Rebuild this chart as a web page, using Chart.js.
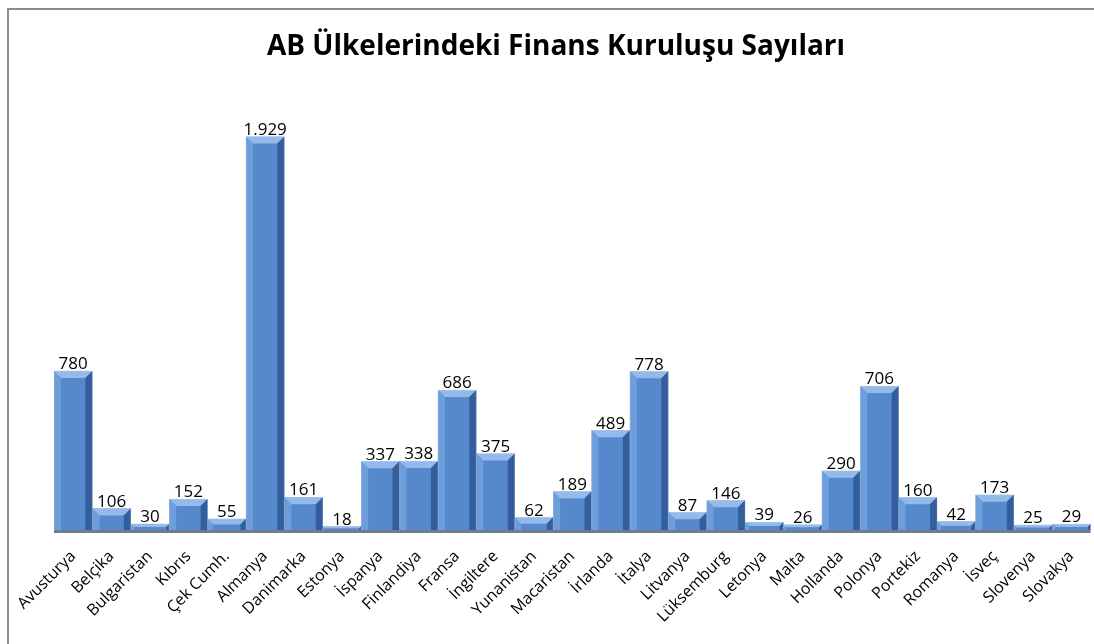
<!DOCTYPE html>
<html>
<head>
<meta charset="utf-8">
<script src="https://cdn.jsdelivr.net/npm/chart.js@4/dist/chart.umd.min.js"></script>
<style>
  html, body { margin: 0; padding: 0; background: #fff; }
  #wrap { width: 1094px; height: 644px; position: relative; }
</style>
</head>
<body>
<div id="wrap"><canvas id="chart"></canvas></div>
<script>
const ulkeler = ['Avusturya', 'Belçika', 'Bulgaristan', 'Kıbrıs', 'Çek Cumh.', 'Almanya', 'Danimarka', 'Estonya',
  'İspanya', 'Finlandiya', 'Fransa', 'İngiltere', 'Yunanistan', 'Macaristan', 'İrlanda', 'İtalya', 'Litvanya',
  'Lüksemburg', 'Letonya', 'Malta', 'Hollanda', 'Polonya', 'Portekiz', 'Romanya', 'İsveç', 'Slovenya', 'Slovakya'];
const kurulusSayisi = [780, 106, 30, 152, 55, 1929, 161, 18, 337, 338, 686, 375, 62, 189, 489, 778, 87,
  146, 39, 26, 290, 706, 160, 42, 173, 25, 29];
const baslik = 'AB Ülkelerindeki Finans Kuruluşu Sayıları';

const fmt = v => v.toLocaleString('tr-TR');

// cerceve, baslik, zemin cizgisi
const cercevePlugin = {
  id: 'cerceve',
  beforeDraw(chart) {
    const ctx = chart.ctx;
    ctx.save();
    ctx.strokeStyle = '#8c8c8c';
    ctx.lineWidth = 2;
    ctx.beginPath();
    ctx.moveTo(8, 700);
    ctx.lineTo(8, 9);
    ctx.lineTo(1100, 9);
    ctx.stroke();
    ctx.fillStyle = '#000';
    ctx.font = 'bold 28px "Open Sans", sans-serif';
    ctx.textAlign = 'center';
    ctx.textBaseline = 'middle';
    ctx.fillText(baslik, 556, 47);
    ctx.restore();
  },
  afterDatasetsDraw(chart) {
    const ctx = chart.ctx;
    const meta = chart.getDatasetMeta(0);
    ctx.save();
    meta.data.forEach((bar, i) => {
      const l = bar.x - bar.width / 2, r = bar.x + bar.width / 2, t = bar.y, b = bar.base;
      const h = b - t, bv = Math.min(7, h / 2);
      // ust egim
      ctx.fillStyle = 'rgba(160,195,240,0.85)';
      ctx.beginPath();
      ctx.moveTo(l, t); ctx.lineTo(r, t); ctx.lineTo(r - bv, t + bv); ctx.lineTo(l + bv, t + bv); ctx.closePath();
      ctx.fill();
      // sol kenar
      ctx.fillStyle = 'rgba(120,165,225,0.7)';
      ctx.beginPath();
      ctx.moveTo(l, t); ctx.lineTo(l + bv, t + bv); ctx.lineTo(l + bv, b); ctx.lineTo(l, b); ctx.closePath();
      ctx.fill();
      // sag kenar
      ctx.fillStyle = 'rgba(40,80,140,0.75)';
      ctx.beginPath();
      ctx.moveTo(r, t); ctx.lineTo(r - bv, t + bv); ctx.lineTo(r - bv, b); ctx.lineTo(r, b); ctx.closePath();
      ctx.fill();
      // deger etiketi
      ctx.fillStyle = '#000';
      ctx.font = '17px "Open Sans", sans-serif';
      ctx.textAlign = 'center';
      ctx.textBaseline = 'bottom';
      ctx.fillText(fmt(kurulusSayisi[i]), bar.x, t + 2);
    });
    const area = chart.chartArea;
    ctx.fillStyle = '#6f7d8c';
    ctx.fillRect(area.left, area.bottom, area.right - area.left, 3);
    ctx.restore();
  }
};

new Chart(document.getElementById('chart'), {
  type: 'bar',
  data: {
    labels: ulkeler,
    datasets: [{
      label: baslik,
      data: kurulusSayisi,
      backgroundColor: '#5589cc',
      borderColor: 'rgba(170,190,215,0.9)',
      borderWidth: 1,
      barPercentage: 1,
      categoryPercentage: 1
    }]
  },
  options: {
    responsive: true,
    maintainAspectRatio: false,
    animation: false,
    layout: { padding: { left: 54, right: 1, top: 122, bottom: 0 } },
    plugins: {
      legend: { display: false },
      tooltip: { enabled: false }
    },
    scales: {
      y: { display: false, min: 0, max: 2000 },
      x: {
        grid: { display: false },
        border: { display: false },
        afterFit(scale) { scale.height = 114; },
        ticks: {
          autoSkip: false,
          maxRotation: 45,
          minRotation: 45,
          color: '#000',
          padding: 9,
          font: { family: '"Open Sans", sans-serif', size: 16 }
        }
      }
    }
  },
  plugins: [cercevePlugin]
});
</script>
</body>
</html>
